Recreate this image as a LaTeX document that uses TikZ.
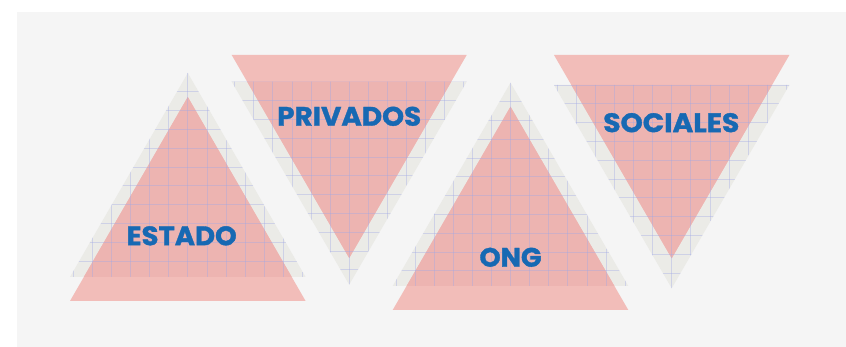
\documentclass[tikz,border=0pt]{standalone}
\usepackage{fontspec}
\usepackage{graphicx}
\newfontfamily\lblfont{Poppins}[BoldFeatures={FakeBold=1.2}]
\definecolor{paper}{HTML}{F5F5F5}
\definecolor{gridgray}{HTML}{EBEBE7}
\definecolor{gridblue}{HTML}{9FA9E6}
\definecolor{pinklight}{HTML}{F2BDB9}
\definecolor{pinkdark}{HTML}{EDB4B1}
\definecolor{lblblue}{HTML}{1769B3}
\newcommand{\mktri}[6]{% #1 apex x, #2 grid apex y, #3 pink apex y, #4 half width, #5 signed height, #6 grid align y
  \fill[gridgray] (#1,#2) -- ++(-#4,#5) -- ++(2*#4,0) -- cycle;
  \fill[pinklight] (#1,#3) -- ++(-#4,#5) -- ++(2*#4,0) -- cycle;
  \begin{scope}
    \clip (#1,#2) -- ++(-#4,#5) -- ++(2*#4,0) -- cycle;
    \fill[pinkdark] (#1,#3) -- ++(-#4,#5) -- ++(2*#4,0) -- cycle;
    \foreach \k in {-7,...,7}
      \draw[gridline] ({#1+\k*19.1},0) -- ({#1+\k*19.1},347);
    \foreach \k in {-12,...,12}
      \draw[gridline] (0,{#6+\k*18.8}) -- (846,{#6+\k*18.8});
  \end{scope}
}
\begin{document}
\begin{tikzpicture}[x=1pt,y=-1pt,
  gridline/.style={draw=gridblue,line width=0.7pt,opacity=0.38},
  lbl/.style={inner sep=0pt,text=lblblue,font=\lblfont\bfseries}]
\useasboundingbox (0,0) rectangle (846,347);
\fill[white] (0,0) rectangle (846,347);
\fill[paper] (17,12) rectangle (846,347);
% ESTADO (up)
\mktri{187.8}{73}{97}{117.8}{204}{73}
% PRIVADOS (down)
\mktri{349.2}{284.7}{258}{117.5}{-203}{81.7}
% ONG (up)
\mktri{510.5}{82.7}{106.7}{117.8}{203.3}{82.7}
% SOCIALES (down)
\mktri{671.7}{288.3}{258.3}{117.7}{-203.3}{85}
\node[lbl] (estado) at (181.7,235.8) {\resizebox{110pt}{19pt}{ESTADO}};
\node[lbl] (privados) at (349.2,116.3) {\resizebox{144pt}{19pt}{PRIVADOS}};
\node[lbl] (ong) at (510.5,257.3) {\resizebox{62pt}{19pt}{ONG}};
\node[lbl] (sociales) at (671.3,122.7) {\resizebox{136pt}{19pt}{SOCIALES}};
\end{tikzpicture}
\end{document}
